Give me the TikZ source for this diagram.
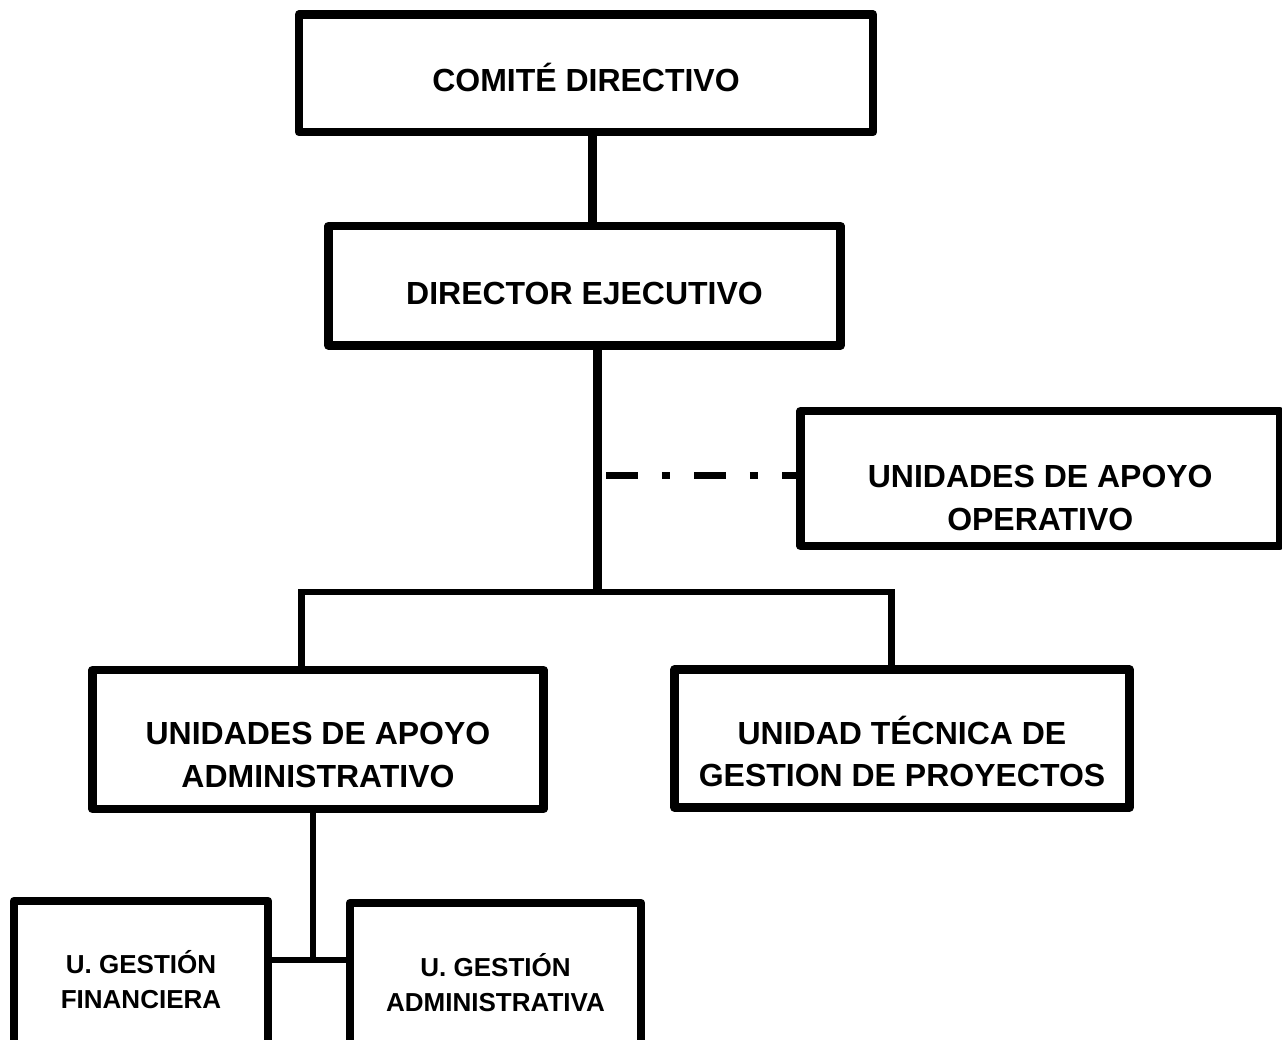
\documentclass[tikz,border=0pt]{standalone}
\usepackage{fontspec}
\setmainfont{Liberation Sans}
\begin{document}
\begin{tikzpicture}[x=0.2mm, y=-0.2mm,
  caja/.style={draw, line width=1.7mm, line join=round, inner sep=0pt, align=center, font=\fontsize{18.2}{24.2}\selectfont\bfseries},
  cajita/.style={caja, font=\fontsize{14.8}{19.9}\selectfont\bfseries},
  grueso/.style={line width=1.8mm},
  fino/.style={line width=1.3mm},
  guiones/.style={line width=1.55mm, dash pattern=on 6.3mm off 4.85mm on 1.6mm off 4.85mm, dash phase=15.8mm}]
\useasboundingbox (0,0) rectangle (1282,1039);
\clip (0,0) rectangle (1282,1039);
\node[caja, minimum width=114.8mm, minimum height=23.5mm] (comite) at (586,73.25) {\rule{0pt}{7.3mm}COMITÉ DIRECTIVO};
\node[caja, minimum width=102.4mm, minimum height=23.9mm] (director) at (584.5,285.75) {\rule{0pt}{7.5mm}DIRECTOR EJECUTIVO};
\node[caja, minimum width=95.9mm, minimum height=27mm] (apoyo) at (1040.25,478.5) {\rule{0pt}{12.2mm}UNIDADES DE APOYO\\OPERATIVO};
\node[caja, minimum width=90.2mm, minimum height=27.8mm] (admin) at (318,739.5) {\rule{0pt}{10.6mm}UNIDADES DE APOYO\\ADMINISTRATIVO};
\node[caja, minimum width=91mm, minimum height=27.6mm] (tecnica) at (902,738.5) {\rule{0pt}{10.8mm}UNIDAD TÉCNICA DE\\GESTION DE PROYECTOS};
\node[cajita, minimum width=50.8mm, minimum height=31.4mm] (financiera) at (141,979.5) {U. GESTIÓN\\FINANCIERA};
\node[cajita, minimum width=58.2mm, minimum height=31.8mm] (administrativa) at (495.5,982.5) {U. GESTIÓN\\ADMINISTRATIVA};
\draw[grueso] ([xshift=1.2mm]comite.south) -- ([xshift=1.2mm]comite.south |- director.north);
\coordinate (rama) at (597,592);
\coordinate (ramaizq) at (301.5,592);
\coordinate (ramader) at (891.5,592);
\draw[grueso] (director.south -| rama) -- (rama);
\draw[fino] (admin.north -| ramaizq) -- (ramaizq) -- (ramader) -- (tecnica.north -| ramader);
\coordinate (punteo) at ([yshift=0.6mm]apoyo.west);
\draw[guiones] (punteo -| rama) -- (punteo);
\coordinate (sub) at (313,960);
\draw[fino] (admin.south -| sub) -- (sub);
\draw[fino] (financiera.east |- sub) -- (administrativa.west |- sub);
\end{tikzpicture}
\end{document}
